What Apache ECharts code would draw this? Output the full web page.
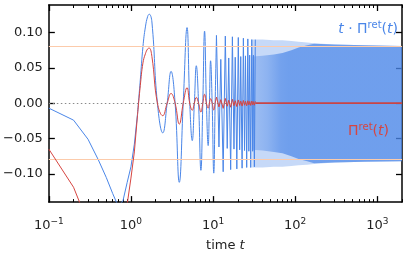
<!DOCTYPE html>
<html>
<head>
<meta charset="utf-8">
<script src="https://cdn.jsdelivr.net/npm/echarts@6/dist/echarts.min.js"></script>
<style>
html,body{margin:0;padding:0;background:#fff;}
#chart{width:415px;height:257px;}
</style>
</head>
<body>
<div id="chart"></div>
<script>
// ---- axis ticks ----
const xMajorTicks = [0.1, 1, 10, 100, 1000];
const xTickExponents = ['\u22121', '0', '1', '2', '3'];
const xMinorTicks = [0.2,0.3,0.4,0.5,0.6,0.7,0.8,0.9, 2,3,4,5,6,7,8,9, 20,30,40,50,60,70,80,90, 200,300,400,500,600,700,800,900, 2000];
const yTicks = [-0.1, -0.05, 0, 0.05, 0.1];
const yTickLabels = ['\u22120.10', '\u22120.05', '0.00', '0.05', '0.10'];
const refLevels = [0.0815, -0.0815];
const zeroLevel = [0];

// ---- t * Pi_ret(t) (blue) ----
const blueEarlyT = [0.1, 0.2, 0.3, 0.4, 0.5, 0.6, 0.7, 0.8, 0.9, 1.0, 1.1, 1.2];
const blueEarlyV = [-0.007, -0.024, -0.051, -0.080, -0.105, -0.128, -0.146, -0.138, -0.112, -0.090, -0.058, -0.016];
const blueOscT = [1.2, 1.3, 1.4, 1.5, 1.6, 1.67, 1.8, 2.1, 2.44, 2.76, 3.08, 3.45, 3.88, 4.33, 4.82, 5.2, 5.58, 5.92, 6.25, 6.66, 7.11, 7.5, 7.88, 8.3, 8.72, 9.03, 9.33, 9.75, 10.2, 10.6, 11.0];
const blueOscV = [-0.016, 0.033, 0.080, 0.108, 0.123, 0.126, 0.115, 0, -0.042, 0, 0.045, 0, -0.112, 0, 0.107, 0, -0.053, 0, 0.053, 0, -0.095, 0, 0.102, 0, -0.060, 0, 0.060, 0, -0.099, 0, 0.096];
const blueDenseT = [11.0, 11.8, 12.42, 13.28, 14.1, 14.88, 15.52, 16.38, 17.2, 17.98, 18.62, 19.48, 20.3, 21.08, 21.72, 22.58, 23.4, 24.18, 24.82, 25.68, 26.5, 27.28, 27.92, 28.78, 29.6, 30.38, 31.02, 31.88, 32.7];
const blueDenseV = [0.096, -0.062, 0.062, -0.097, 0.095, -0.064, 0.064, -0.094, 0.094, -0.065, 0.065, -0.093, 0.093, -0.066, 0.066, -0.092, 0.092, -0.067, 0.067, -0.091, 0.091, -0.068, 0.068, -0.091, 0.090, -0.068, 0.068, -0.090, 0.090];
// envelope of the part that oscillates too densely to resolve
const bandT = [30, 40, 55, 70, 90, 110, 140, 170, 300, 700, 2000];
const outerUpper = [0.090, 0.090, 0.089, 0.089, 0.088, 0.087, 0.086, 0.085, 0.083, 0.082, 0.081];
const outerLower = [-0.091, -0.091, -0.090, -0.090, -0.089, -0.088, -0.087, -0.086, -0.084, -0.083, -0.082];
const innerUpper = [0.066, 0.067, 0.069, 0.071, 0.075, 0.079, 0.082, 0.084, 0.083, 0.082, 0.081];
const innerLower = [-0.066, -0.067, -0.069, -0.071, -0.075, -0.079, -0.082, -0.085, -0.084, -0.083, -0.082];

// ---- Pi_ret(t) (red) ----
const redEarlyT = [0.1, 0.2, 0.3, 0.4, 0.5, 0.6, 0.7, 0.8, 0.9, 1.0, 1.1, 1.2];
const redEarlyV = [-0.065, -0.119, -0.170, -0.200, -0.210, -0.213, -0.208, -0.180, -0.143, -0.106, -0.069, -0.018];
const redOscT = [1.2, 1.3, 1.4, 1.5, 1.6, 1.67, 1.8, 2.1, 2.44, 2.76, 3.08, 3.45, 3.88, 4.33, 4.82, 5.2, 5.58, 5.92, 6.25, 6.66, 7.11, 7.5, 7.88, 8.3, 8.72, 9.03, 9.33, 9.75, 10.2, 10.6, 11.0];
const redOscV = [-0.018, 0.025, 0.057, 0.070, 0.077, 0.078, 0.066, 0, -0.0177, 0, 0.0138, 0, -0.0296, 0, 0.022, 0, -0.010, 0, 0.0082, 0, -0.0125, 0, 0.0126, 0, -0.007, 0, 0.0065, 0, -0.0097, 0, 0.0087];
const redDenseT = [11.0, 11.8, 12.42, 13.28, 14.1, 14.88, 15.52, 16.38, 17.2, 17.98, 18.62, 19.48, 20.3, 21.08, 21.72, 22.58, 23.4, 24.18, 24.82, 25.68, 26.5, 27.28, 27.92, 28.78, 29.6, 30.38, 31.02, 31.88, 32.7];
const redDenseV = [0.0087, -0.0053, 0.005, -0.0073, 0.0067, -0.0043, 0.0041, -0.0057, 0.0055, -0.0036, 0.0035, -0.0048, 0.0046, -0.0031, 0.003, -0.0041, 0.0039, -0.0028, 0.0027, -0.0036, 0.0034, -0.0025, 0.0024, -0.0032, 0.0031, -0.0022, 0.0022, -0.0028, 0.0027];
const redTailT = [32.7, 2000];
const redTailV = [0, 0];

const BLUE = '#4a86e8';
const RED = '#d64541';
const FONT = 'DejaVu Sans';

function pairs(T, V) { return T.map((t, i) => [t, V[i]]); }

const chart = echarts.init(document.getElementById('chart'), null, {renderer: 'canvas'});

function blackLine() { return {color: '#000', width: 1.5}; }
function tickLine(w) { return {color: '#000', width: w}; }

function xAx(pos, major, showLine, withLabel) {
  const ax = {
    type: 'log', logBase: 10, min: 0.1, max: 2000, position: pos, gridIndex: 0,
    axisLine: {show: showLine, onZero: false, lineStyle: blackLine()},
    axisTick: {show: true, inside: true, length: major ? 6 : 3, customValues: major ? xMajorTicks : xMinorTicks, lineStyle: tickLine(major ? 1.3 : 1)},
    axisLabel: {show: false},
    splitLine: {show: false}
  };
  if (withLabel) {
    ax.axisLabel = {
      show: true, customValues: xMajorTicks, margin: 15, color: '#222',
      fontFamily: FONT, fontSize: 13, lineHeight: 17,
      formatter: function (v) {
        const i = xMajorTicks.findIndex(m => Math.abs(Math.log10(m) - Math.log10(v)) < 1e-6);
        return '10{s|' + (i >= 0 ? xTickExponents[i] : '') + '}';
      },
      rich: {s: {fontFamily: FONT, fontSize: 9, lineHeight: 8, verticalAlign: 'top', color: '#222'}}
    };
    ax.name = 'time {i|t}';
    ax.nameLocation = 'middle';
    ax.nameGap = 36;
    ax.nameTextStyle = {fontFamily: FONT, fontSize: 13, color: '#222', rich: {i: {fontFamily: FONT, fontSize: 13, fontStyle: 'italic', color: '#222'}}};
  }
  return ax;
}

function yAx(pos, withLabel) {
  return {
    type: 'value', min: -0.14, max: 0.139, position: pos, gridIndex: 0,
    axisLine: {show: true, onZero: false, lineStyle: blackLine()},
    axisTick: {show: true, inside: true, length: 6, customValues: yTicks, lineStyle: tickLine(1.3)},
    axisLabel: withLabel ? {
      show: true, customValues: yTicks, margin: 6, color: '#222', fontFamily: FONT, fontSize: 13,
      padding: [2, 0, 0, 0],
      formatter: function (v) {
        const i = yTicks.findIndex(m => Math.abs(m - v) < 1e-9);
        return i >= 0 ? yTickLabels[i] : '';
      }
    } : {show: false},
    splitLine: {show: false}
  };
}

const lineBase = {type: 'line', xAxisIndex: 0, yAxisIndex: 0, showSymbol: false, symbol: 'none', animation: false, silent: true};

const innerGrad = new echarts.graphic.LinearGradient(0, 0, 1, 0, [
  {offset: 0, color: 'rgba(74,134,232,0.45)'},
  {offset: 0.1, color: 'rgba(74,134,232,0.65)'},
  {offset: 0.19, color: 'rgba(74,134,232,0.95)'},
  {offset: 0.24, color: 'rgba(74,134,232,1)'},
  {offset: 1, color: 'rgba(74,134,232,1)'}
]);
const outerColor = 'rgba(74,134,232,0.45)';

const option = {
  animation: false,
  backgroundColor: '#fff',
  grid: {left: 48, right: 13, top: 5, bottom: 41, containLabel: false},
  xAxis: [xAx('bottom', true, true, true), xAx('bottom', false, false, false), xAx('top', true, true, false), xAx('top', false, false, false)],
  yAxis: [yAx('left', true), yAx('right', false)],
  series: [
    Object.assign({}, lineBase, {
      name: 'outerUp', z: 2, data: pairs(bandT, outerUpper),
      lineStyle: {width: 0}, areaStyle: {color: outerColor, origin: 'auto'},
      markLine: {
        silent: true, symbol: 'none', label: {show: false}, animation: false,
        data: refLevels.map(v => ({yAxis: v, lineStyle: {color: '#fccbab', width: 1, type: 'solid'}}))
          .concat(zeroLevel.map(v => ({yAxis: v, lineStyle: {color: '#8a8a8a', width: 1, type: [1.5, 2.5]}})))
      }
    }),
    Object.assign({}, lineBase, {name: 'outerLo', z: 2, data: pairs(bandT, outerLower), lineStyle: {width: 0}, areaStyle: {color: outerColor, origin: 'auto'}}),
    Object.assign({}, lineBase, {name: 'innerUp', z: 3, data: pairs(bandT, innerUpper), lineStyle: {width: 0}, areaStyle: {color: innerGrad, origin: 'auto'}}),
    Object.assign({}, lineBase, {name: 'innerLo', z: 3, data: pairs(bandT, innerLower), lineStyle: {width: 0}, areaStyle: {color: innerGrad, origin: 'auto'}}),
    Object.assign({}, lineBase, {name: 'blueEarly', z: 4, data: pairs(blueEarlyT, blueEarlyV), lineStyle: {color: BLUE, width: 1}}),
    Object.assign({}, lineBase, {name: 'blueOsc', z: 4, smooth: 0.45, data: pairs(blueOscT, blueOscV), lineStyle: {color: BLUE, width: 1}}),
    Object.assign({}, lineBase, {name: 'blueDense', z: 4, data: pairs(blueDenseT, blueDenseV), lineStyle: {color: BLUE, width: 1}}),
    Object.assign({}, lineBase, {name: 'redEarly', z: 5, data: pairs(redEarlyT, redEarlyV), lineStyle: {color: RED, width: 1}}),
    Object.assign({}, lineBase, {name: 'redOsc', z: 5, smooth: 0.45, data: pairs(redOscT, redOscV), lineStyle: {color: RED, width: 1}}),
    Object.assign({}, lineBase, {name: 'redDense', z: 5, data: pairs(redDenseT, redDenseV), lineStyle: {color: RED, width: 1}}),
    Object.assign({}, lineBase, {name: 'redTail', z: 5, data: pairs(redTailT, redTailV), lineStyle: {color: '#c94545', width: 1.8}})
  ],
  graphic: [
    {
      type: 'text', right: 17, top: 20, z: 100, silent: true,
      style: {
        text: '{i|t}{n| \u00b7 \u03a0}{s|ret}{n|(}{i|t}{n|)}',
        fill: BLUE,
        rich: {
          n: {fontFamily: FONT, fontSize: 14, lineHeight: 18, fill: BLUE},
          i: {fontFamily: FONT, fontSize: 14, lineHeight: 18, fontStyle: 'italic', fill: BLUE},
          s: {fontFamily: FONT, fontSize: 10, lineHeight: 9, verticalAlign: 'top', fill: BLUE}
        }
      }
    },
    {
      type: 'text', right: 26, top: 122, z: 100, silent: true,
      style: {
        text: '{n|\u03a0}{s|ret}{n|(}{i|t}{n|)}',
        fill: RED,
        rich: {
          n: {fontFamily: FONT, fontSize: 14, lineHeight: 18, fill: RED},
          i: {fontFamily: FONT, fontSize: 14, lineHeight: 18, fontStyle: 'italic', fill: RED},
          s: {fontFamily: FONT, fontSize: 10, lineHeight: 9, verticalAlign: 'top', fill: RED}
        }
      }
    }
  ]
};

chart.setOption(option);
</script>
</body>
</html>
